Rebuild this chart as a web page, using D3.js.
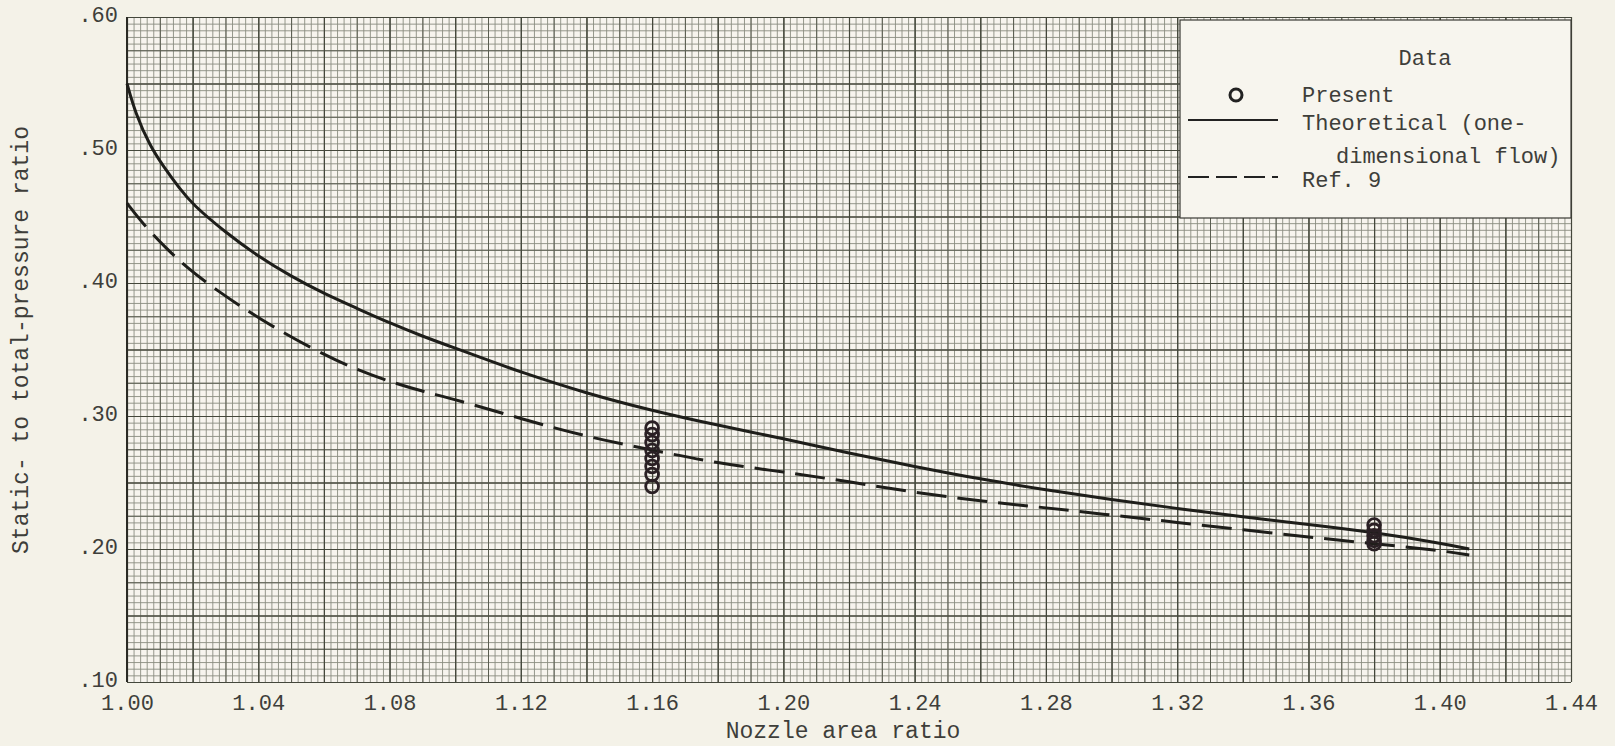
<!DOCTYPE html>
<html lang="en">
<head>
<meta charset="UTF-8">
<title>Static- to total-pressure ratio vs nozzle area ratio</title>
<style>
  html, body { margin: 0; padding: 0; background: #f4f2e8; }
  svg { display: block; }
  text { font-family: "Liberation Mono", "DejaVu Sans Mono", monospace; fill: #3e3e3a; }
</style>
</head>
<body>
<svg id="chart"></svg>
<script src="https://d3js.org/d3.v7.min.js"></script>
<script>
// theoretical (one-dimensional flow), solid line
const theoArea  = [1.000, 1.0025, 1.007, 1.011, 1.016, 1.020, 1.030, 1.040, 1.050, 1.060, 1.070, 1.080, 1.090, 1.100, 1.110, 1.120, 1.140, 1.160, 1.180, 1.200, 1.220, 1.240, 1.260, 1.280, 1.300, 1.320, 1.340, 1.360, 1.380, 1.400, 1.409];
const theoRatio = [0.550, 0.528, 0.503, 0.488, 0.471, 0.459, 0.438, 0.420, 0.405, 0.392, 0.381, 0.370, 0.360, 0.351, 0.342, 0.333, 0.317, 0.304, 0.293, 0.283, 0.272, 0.262, 0.2525, 0.2445, 0.237, 0.2305, 0.224, 0.2185, 0.2125, 0.2045, 0.200];

// Ref. 9, dashed line
const ref9Area  = [1.000, 1.0055, 1.012, 1.018, 1.027, 1.040, 1.056, 1.070, 1.080, 1.090, 1.100, 1.120, 1.140, 1.160, 1.180, 1.200, 1.220, 1.240, 1.260, 1.280, 1.300, 1.320, 1.340, 1.360, 1.380, 1.400, 1.409];
const ref9Ratio = [0.460, 0.4425, 0.426, 0.412, 0.395, 0.3735, 0.351, 0.3346, 0.326, 0.3185, 0.3125, 0.298, 0.2844, 0.2744, 0.2644, 0.258, 0.2506, 0.2425, 0.236, 0.231, 0.2255, 0.220, 0.2145, 0.209, 0.204, 0.199, 0.1955];

// present data, circles
const presentArea  = [1.16, 1.16, 1.16, 1.16, 1.16, 1.16, 1.16, 1.16, 1.38, 1.38, 1.38, 1.38, 1.38];
const presentRatio = [0.291, 0.286, 0.280, 0.274, 0.268, 0.262, 0.256, 0.247, 0.218, 0.214, 0.210, 0.2065, 0.204];

const xTicks = [1.00, 1.04, 1.08, 1.12, 1.16, 1.20, 1.24, 1.28, 1.32, 1.36, 1.40, 1.44];
const yTicks = [0.10, 0.20, 0.30, 0.40, 0.50, 0.60];
const yTickLabels = [".10", ".20", ".30", ".40", ".50", ".60"];

const width = 1615, height = 746;
const margin = {top: 17, right: 44, bottom: 64, left: 127};
const w = width - margin.left - margin.right;
const h = height - margin.top - margin.bottom;

const svg = d3.select("#chart").attr("width", width).attr("height", height);
const g = svg.append("g").attr("transform", `translate(${margin.left},${margin.top})`);

const x = d3.scaleLinear().domain([1.00, 1.44]).range([0, w]);
const y = d3.scaleLinear().domain([0.10, 0.60]).range([h, 0]);

// graph paper
g.append("rect").attr("width", w).attr("height", h).attr("fill", "#f7f4ee");

function grid(step, stroke, sw) {
  const xs = d3.range(0, Math.round(0.44 / step) + 1).map(i => 1 + i * step);
  const ys = d3.range(0, Math.round(0.50 / (step * 2.5)) + 1).map(i => 0.10 + i * step * 2.5);
  g.append("g")
    .attr("transform", `translate(0,${h})`)
    .call(d3.axisBottom(x).tickValues(xs).tickSize(-h).tickFormat(""))
    .call(a => a.select(".domain").remove())
    .call(a => a.selectAll("line").attr("stroke", stroke).attr("stroke-width", sw));
  g.append("g")
    .call(d3.axisLeft(y).tickValues(ys).tickSize(-w).tickFormat(""))
    .call(a => a.select(".domain").remove())
    .call(a => a.selectAll("line").attr("stroke", stroke).attr("stroke-width", sw));
}
grid(0.002, "#8a8c80", 0.9);
grid(0.01, "#5a5d50", 1.0);
grid(0.02, "#44473b", 1.2);

g.append("line").attr("x1", 0).attr("x2", 0).attr("y1", 0).attr("y2", h)
  .attr("stroke", "#2a2a24").attr("stroke-width", 2);

// axis labels
g.append("g")
  .attr("transform", `translate(0,${h})`)
  .call(d3.axisBottom(x).tickValues(xTicks).tickSize(0).tickPadding(12).tickFormat(d3.format(".2f")))
  .call(a => a.select(".domain").remove())
  .call(a => a.selectAll("text").style("font-size", "22px").attr("fill", "#3e3e3a"));

g.append("g")
  .call(d3.axisLeft(y).tickValues(yTicks).tickSize(0).tickPadding(9).tickFormat((d, i) => yTickLabels[i]))
  .call(a => a.select(".domain").remove())
  .call(a => a.selectAll("text").style("font-size", "22px").attr("dy", "0.2em").attr("fill", "#3e3e3a"));

svg.append("text")
  .attr("x", 843).attr("y", 738)
  .attr("text-anchor", "middle").style("font-size", "23px")
  .text("Nozzle area ratio");

svg.append("text")
  .attr("transform", "translate(28,340) rotate(-90)")
  .attr("text-anchor", "middle").style("font-size", "23px")
  .text("Static- to total-pressure ratio");

// curves
const line = d3.line().x(d => x(d[0])).y(d => y(d[1])).curve(d3.curveBasis);

g.append("path")
  .datum(theoArea.map((a, i) => [a, theoRatio[i]]))
  .attr("d", line)
  .attr("fill", "none").attr("stroke", "#1e1e1a").attr("stroke-width", 3);

g.append("path")
  .datum(ref9Area.map((a, i) => [a, ref9Ratio[i]]))
  .attr("d", line)
  .attr("fill", "none").attr("stroke", "#1e1e1a").attr("stroke-width", 3)
  .attr("stroke-dasharray", "30,11");

g.selectAll("circle.present")
  .data(presentArea.map((a, i) => [a, presentRatio[i]]))
  .join("circle")
  .attr("class", "present")
  .attr("cx", d => x(d[0])).attr("cy", d => y(d[1]))
  .attr("r", 6.4)
  .attr("fill", "none").attr("stroke", "#2a2024").attr("stroke-width", 2.8);

// legend
const lg = svg.append("g");
lg.append("rect")
  .attr("x", 1180).attr("y", 20).attr("width", 1571 - 1180).attr("height", 198)
  .attr("fill", "#f7f5ee").attr("stroke", "#3a3a34").attr("stroke-width", 1.2);
lg.append("text").attr("x", 1425).attr("y", 65).attr("text-anchor", "middle")
  .style("font-size", "22px").text("Data");
lg.append("circle").attr("cx", 1236).attr("cy", 95).attr("r", 6)
  .attr("fill", "none").attr("stroke", "#222").attr("stroke-width", 3);
lg.append("text").attr("x", 1302).attr("y", 102).style("font-size", "22px").text("Present");
lg.append("line").attr("x1", 1188).attr("x2", 1278).attr("y1", 120).attr("y2", 120)
  .attr("stroke", "#222").attr("stroke-width", 2.2);
lg.append("text").attr("x", 1302).attr("y", 130).style("font-size", "22px").text("Theoretical (one-");
lg.append("text").attr("x", 1336).attr("y", 163).style("font-size", "22px").text("dimensional flow)");
lg.append("line").attr("x1", 1188).attr("x2", 1278).attr("y1", 177).attr("y2", 177)
  .attr("stroke", "#222").attr("stroke-width", 2.2).attr("stroke-dasharray", "21,7");
lg.append("text").attr("x", 1302).attr("y", 187).style("font-size", "22px").text("Ref. 9");
</script>
</body>
</html>
